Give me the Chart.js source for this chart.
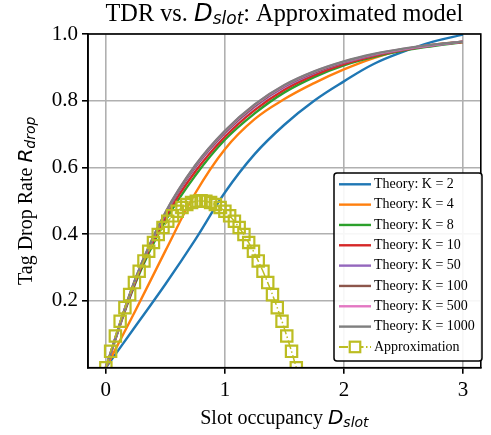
<!DOCTYPE html>
<html>
<head>
<meta charset="utf-8">
<script src="https://cdn.jsdelivr.net/npm/chart.js@4.4.0/dist/chart.umd.min.js"></script>
<style>
  html, body { margin: 0; padding: 0; background: #fff; }
  canvas { display: block; }
</style>
</head>
<body>
<canvas id="tdrChart" width="491" height="435"></canvas>
<script>
'use strict';

// --- Data ---
const D_GRID = [0, 0.25, 0.5, 0.75, 1.0, 1.25, 1.5, 1.75, 2.0, 2.25, 2.5, 2.75, 3.0];

const K_LABELS = ['Theory: K = 2', 'Theory: K = 4', 'Theory: K = 8', 'Theory: K = 10',
                  'Theory: K = 50', 'Theory: K = 100', 'Theory: K = 500', 'Theory: K = 1000'];

const TDR_K2    = [0, 0.125, 0.250, 0.383, 0.525, 0.640, 0.728, 0.800, 0.858, 0.910, 0.947, 0.977, 0.998];
const TDR_K4    = [0, 0.172, 0.350, 0.522, 0.655, 0.745, 0.805, 0.853, 0.894, 0.928, 0.953, 0.968, 0.977];
const TDR_K8    = [0, 0.255, 0.440, 0.575, 0.683, 0.762, 0.825, 0.871, 0.906, 0.931, 0.950, 0.964, 0.976];
const TDR_K10   = [0, 0.260, 0.450, 0.587, 0.692, 0.772, 0.833, 0.877, 0.910, 0.934, 0.952, 0.966, 0.976];
const TDR_K50   = [0, 0.265, 0.460, 0.600, 0.703, 0.782, 0.841, 0.883, 0.914, 0.937, 0.953, 0.966, 0.977];
const TDR_K100  = [0, 0.266, 0.462, 0.603, 0.706, 0.785, 0.844, 0.885, 0.916, 0.938, 0.954, 0.967, 0.977];
const TDR_K500  = [0, 0.267, 0.464, 0.605, 0.709, 0.788, 0.846, 0.887, 0.917, 0.939, 0.955, 0.967, 0.977];
const TDR_K1000 = [0, 0.268, 0.465, 0.606, 0.710, 0.789, 0.847, 0.888, 0.918, 0.940, 0.956, 0.968, 0.977];

const D_APPROX = [0, 0.04, 0.08, 0.12, 0.16, 0.20, 0.24, 0.28, 0.32, 0.36, 0.40, 0.44, 0.48, 0.52,
                  0.56, 0.60, 0.64, 0.68, 0.72, 0.76, 0.80, 0.84, 0.88, 0.92, 0.96, 1.00, 1.04,
                  1.08, 1.12, 1.16, 1.20, 1.24, 1.28, 1.32, 1.36, 1.40, 1.44, 1.48, 1.52, 1.56, 1.60];
const TDR_APPROX = [0, 0.049, 0.095, 0.139, 0.180, 0.219, 0.255, 0.289, 0.320, 0.349, 0.375, 0.399,
                    0.420, 0.439, 0.455, 0.469, 0.480, 0.489, 0.495, 0.499, 0.500, 0.499, 0.495,
                    0.489, 0.480, 0.469, 0.455, 0.439, 0.420, 0.399, 0.375, 0.349, 0.320, 0.289,
                    0.255, 0.219, 0.180, 0.139, 0.095, 0.049, 0];

const X_TICKS = [0, 1, 2, 3];
const Y_TICKS = [0.2, 0.4, 0.6, 0.8, 1.0];

// --- Styling ---
const COLORS = ['#1f77b4', '#ff7f0e', '#2ca02c', '#d62728', '#9467bd', '#8c564b', '#e377c2', '#7f7f7f'];
const APPROX_COLOR = '#bcbd22';
const SERIF = '"Liberation Serif", "Times New Roman", serif';
const MATH = '"DejaVu Sans", sans-serif';
const APPROX_DASH = [9, 2.5, 1.5, 2.5];

const theorySeries = [TDR_K2, TDR_K4, TDR_K8, TDR_K10, TDR_K50, TDR_K100, TDR_K500, TDR_K1000];

const datasets = theorySeries.map((vals, i) => ({
    label: K_LABELS[i],
    data: D_GRID.map((d, j) => ({ x: d, y: vals[j] })),
    borderColor: COLORS[i],
    borderWidth: 2.4,
    pointRadius: 0,
    tension: 0.4,
    order: 20 - i
}));
datasets.push({
    label: 'Approximation',
    data: D_APPROX.map((d, j) => ({ x: d, y: TDR_APPROX[j] })),
    borderColor: APPROX_COLOR,
    borderWidth: 1.5,
    borderDash: APPROX_DASH,
    pointStyle: 'rect',
    pointRadius: 8,
    pointBorderWidth: 2.2,
    pointBackgroundColor: 'rgba(0,0,0,0)',
    pointBorderColor: APPROX_COLOR,
    order: 0
});

// Draw a run of text pieces (serif + italic math + subscript) starting from x
function drawRich(ctx, parts, x, y, align) {
    let total = 0;
    parts.forEach(p => { ctx.font = p.font; p.w = ctx.measureText(p.text).width; total += p.w; });
    let cx = align === 'center' ? x - total / 2 : x;
    ctx.textAlign = 'left';
    ctx.textBaseline = 'alphabetic';
    parts.forEach(p => {
        ctx.font = p.font;
        ctx.fillText(p.text, cx, y + (p.dy || 0));
        cx += p.w;
    });
}

const framePlugin = {
    id: 'frame',
    afterDatasetsDraw(chart) {
        const { ctx, chartArea: a } = chart;
        ctx.save();
        ctx.strokeStyle = '#000';
        ctx.lineWidth = 1.6;
        ctx.strokeRect(a.left, a.top, a.right - a.left, a.bottom - a.top);
        ctx.restore();
    }
};

const textPlugin = {
    id: 'texts',
    afterDraw(chart) {
        const { ctx, chartArea: a } = chart;
        const midX = (a.left + a.right) / 2;
        const midY = (a.top + a.bottom) / 2;
        ctx.save();
        ctx.fillStyle = '#000';
        // title
        drawRich(ctx, [
            { text: 'TDR vs. ', font: `24.3px ${SERIF}` },
            { text: 'D', font: `italic 24.3px ${MATH}` },
            { text: 'slot', font: `italic 17px ${MATH}`, dy: 3.5 },
            { text: ': Approximated model', font: `24.3px ${SERIF}` }
        ], midX, 20.7, 'center');
        // x label
        drawRich(ctx, [
            { text: 'Slot occupancy ', font: `20px ${SERIF}` },
            { text: 'D', font: `italic 20px ${MATH}` },
            { text: 'slot', font: `italic 14px ${MATH}`, dy: 3 }
        ], midX, 424, 'center');
        // y label
        ctx.save();
        ctx.translate(31.5, midY);
        ctx.rotate(-Math.PI / 2);
        drawRich(ctx, [
            { text: 'Tag Drop Rate ', font: `20px ${SERIF}` },
            { text: 'R', font: `italic 20px ${MATH}` },
            { text: 'drop', font: `italic 14px ${MATH}`, dy: 3 }
        ], 0, 0, 'center');
        ctx.restore();
        ctx.restore();
    }
};

const legendPlugin = {
    id: 'boxLegend',
    afterDraw(chart) {
        const { ctx } = chart;
        const box = { x: 334, y: 173, w: 148, h: 188 };
        const rowY0 = 184.3, rowStep = 20.33;
        const lineX0 = 339, lineX1 = 371, textX = 374;
        ctx.save();
        ctx.beginPath();
        ctx.roundRect(box.x, box.y, box.w, box.h, 3);
        ctx.fillStyle = 'rgba(255,255,255,0.9)';
        ctx.fill();
        ctx.strokeStyle = '#000';
        ctx.lineWidth = 1.5;
        ctx.stroke();

        chart.data.datasets.forEach((ds, i) => {
            const y = rowY0 + i * rowStep;
            ctx.strokeStyle = ds.borderColor;
            ctx.lineWidth = ds.borderDash ? 2 : 2.4;
            ctx.setLineDash(ds.borderDash || []);
            ctx.beginPath();
            ctx.moveTo(lineX0, y);
            ctx.lineTo(lineX1, y);
            ctx.stroke();
            ctx.setLineDash([]);
            if (ds.pointStyle === 'rect') {
                const s = 10.5;
                const cx = (lineX0 + lineX1) / 2;
                ctx.fillStyle = '#fff';
                ctx.fillRect(cx - s / 2, y - s / 2, s, s);
                ctx.lineWidth = 2.2;
                ctx.strokeRect(cx - s / 2, y - s / 2, s, s);
            }
            ctx.fillStyle = '#000';
            ctx.font = `14px ${SERIF}`;
            ctx.textAlign = 'left';
            ctx.textBaseline = 'middle';
            ctx.fillText(ds.label, textX, y);
        });
        ctx.restore();
    }
};

Chart.defaults.font.family = SERIF;
Chart.defaults.color = '#000';

new Chart(document.getElementById('tdrChart'), {
    type: 'line',
    data: { datasets },
    options: {
        responsive: false,
        animation: false,
        devicePixelRatio: 1,
        events: [],
        layout: { padding: { left: 0, top: 34, right: 3.5, bottom: 0 } },
        plugins: { legend: { display: false }, tooltip: { enabled: false }, title: { display: false } },
        scales: {
            x: {
                type: 'linear',
                min: -0.15,
                max: 3.15,
                afterBuildTicks: s => { s.ticks = X_TICKS.map(v => ({ value: v })); },
                afterFit: s => { s.height = 67.3; },
                ticks: { font: { size: 21 }, padding: 4, maxRotation: 0, callback: v => String(v) },
                grid: { color: '#b0b0b0', lineWidth: 1.6, tickColor: '#000', tickLength: 6, tickWidth: 1.6 },
                border: { color: '#000', width: 1.6 }
            },
            y: {
                type: 'linear',
                min: 0,
                max: 1,
                afterBuildTicks: s => { s.ticks = Y_TICKS.map(v => ({ value: v })); },
                afterFit: s => { s.width = 88; },
                ticks: { font: { size: 21 }, padding: 4, callback: v => v.toFixed(1) },
                grid: { color: '#b0b0b0', lineWidth: 1.6, tickColor: '#000', tickLength: 6, tickWidth: 1.6 },
                border: { color: '#000', width: 1.6 }
            }
        }
    },
    plugins: [framePlugin, textPlugin, legendPlugin]
});
</script>
</body>
</html>
